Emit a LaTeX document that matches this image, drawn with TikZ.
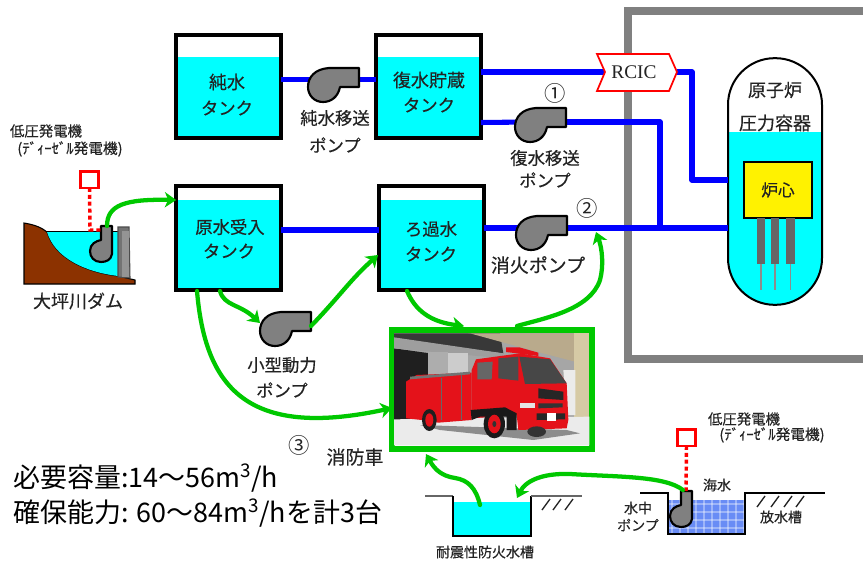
\documentclass[tikz,border=0pt]{standalone}
\usepackage{fontspec}
\setmainfont[RawFeature={embolden=0.35}]{Noto Sans CJK JP}
\newfontfamily\plainjp{Noto Sans CJK JP}
\newfontfamily\rcicfont{Liberation Serif}
\usetikzlibrary{arrows.meta,calc}
\definecolor{wtr}{RGB}{0,255,255}
\definecolor{gbrd}{RGB}{0,200,0}
\definecolor{pipeblue}{RGB}{0,0,255}
\definecolor{txt}{RGB}{35,35,35}
\definecolor{trk}{RGB}{228,18,26}
\definecolor{damb}{RGB}{140,50,0}
\definecolor{sand}{RGB}{214,202,165}
\definecolor{facade}{RGB}{185,170,140}
\definecolor{seab}{RGB}{105,140,245}
\tikzset{
  pipe/.style={draw=pipeblue,line width=3.8pt,line join=round},
  feed/.style={draw=gbrd,line width=3.2pt,line cap=round,-{Stealth[length=8.5pt,width=11.5pt,inset=2.5pt]}},
  tankbox/.style={draw=black,line width=2.6pt,minimum width=78.5pt,minimum height=77pt,inner sep=0pt,outer sep=0pt},
  lab/.style={inner sep=0pt,text=txt,align=center},
  t18/.style={lab,font=\fontsize{13.5pt}{15pt}\selectfont},
  t17/.style={lab,font=\fontsize{13pt}{15pt}\selectfont},
  t19/.style={lab,font=\fontsize{14.2pt}{16pt}\selectfont},
  t14/.style={lab,font=\fontsize{10.5pt}{12pt}\selectfont},
  t11/.style={lab,font=\fontsize{11pt}{13pt}\selectfont},
  circnum/.style={lab,font=\plainjp\fontsize{16pt}{18pt}\selectfont},
  big/.style={inner sep=0pt,anchor=west,text=black,font=\plainjp\fontsize{20.2pt}{22pt}\selectfont},
  redbox/.style={draw=red,line width=2pt,fill=white,minimum width=13.5pt,minimum height=12.5pt,inner sep=0pt,outer sep=0pt},
  reddash/.style={draw=red,line width=2.6pt,dash pattern=on 3pt off 2.2pt},
  hatch/.style={draw=txt,line width=1pt},
  ground/.style={draw=black,line width=2pt,line join=miter},
  pump/.pic={
    \path[fill=black!50,draw=black,line width=1.6pt,line join=round]
      (17,0) .. controls (15,10) and (8,15) .. (0,15)
      .. controls (-9,15) and (-15,8) .. (-15,0)
      .. controls (-15,-10) and (-8,-18) .. (6,-19)
      -- (36,-19) -- (36,0) -- cycle;
  },
  subpump/.pic={
    \path[fill=black!50,draw=black,line width=1.6pt,line join=round]
      (1,-24) -- (12,-24) -- (12,4)
      .. controls (11,10) and (6,12) .. (1,12)
      .. controls (-6,12) and (-10,7) .. (-10,1)
      .. controls (-10,-6) and (-4,-9) .. (1,-10) -- cycle;
  }
}
\begin{document}
\begin{tikzpicture}[x=0.75pt,y=-0.75pt]
\useasboundingbox (0,0) rectangle (863,560);
\fill[white] (0,0) rectangle (863,560);
% containment wall
\draw[draw=black!50,line width=6pt,line join=miter] (863,11) -- (628,11) -- (628,359) -- (863,359);
% water in tanks
\fill[wtr] (176,57) rectangle (281,138);
\fill[wtr] (376,57) rectangle (481,138);
\fill[wtr] (176,200) rectangle (281,290);
\fill[wtr] (379,200) rectangle (484,290);
% tanks
\node[tankbox] (tA) at (228.5,86.5) {};
\node[tankbox] (tB) at (428.5,86.5) {};
\node[tankbox,minimum height=78pt] (tC) at (228.5,238) {};
\node[tankbox,minimum height=78pt] (tD) at (431.5,238) {};
% vessel
\begin{scope}
\clip[rounded corners=35pt] (728,58) rectangle (822,305);
\fill[wtr] (728,132) rectangle (822,305);
\end{scope}
\node[draw=black,line width=1.5pt,rounded corners=35pt,minimum width=70.5pt,minimum height=185pt,inner sep=0pt,outer sep=0pt] (rpv) at (775,181.5) {};
% pump positions
\coordinate (pA) at (323,87);
\coordinate (pB) at (530,127);
\coordinate (pC) at (531,235);
\coordinate (pS) at (275,331);
\coordinate (rcicL) at (605,72);
\coordinate (rcicR) at (677,72);
\coordinate (jA) at (692,180);
\coordinate (jB) at (660,122);
% pipes
\draw[pipe] ($(tA.east)+(0,-7)$) -- (pA |- 0,79.5);
\draw[pipe] (359,79.5) -- ($(tB.west)+(0,-7)$);
\draw[pipe] ($(tB.east)+(0,-14.5)$) -- (rcicL);
\draw[pipe] (rcicR) -- (rcicR -| jA) -- (jA) -- (jA -| rpv.west);
\draw[pipe] ($(tB.east)+(0,36)$) -- (pB |- jB);
\draw[pipe] (pB |- jB) -- (jB) -- (jB |- 0,228);
\draw[pipe] ($(tC.east)+(0,-8)$) -- ($(tD.west)+(0,-8)$);
\draw[pipe] ($(tD.east)+(0,-10)$) -- (0,228 -| rpv.west);
% pumps
\pic at (pA) {pump};
\pic at (pB) {pump};
\pic at (pC) {pump};
\pic at (pS) {pump};
% RCIC
\path[draw=red,fill=white,line width=1.3pt,line join=miter] (597,54) -- (669,54) -- (rcicR) -- (669,91) -- (597,91) -- (rcicL) -- cycle;
\node[inner sep=0pt,text=txt,font=\rcicfont\fontsize{14.5pt}{16pt}\selectfont] (rcic) at (634,72) {RCIC};
% core
\node[draw=black,fill=yellow,line width=1.1pt,minimum width=51pt,minimum height=42pt,inner sep=0pt,text=txt,font=\fontsize{12.5pt}{14pt}\selectfont] (core) at (778,190) {炉心};
\foreach \a/\b in {757/765,771/779,786/795}{
  \fill[black!60] (\a,218) rectangle (\b,264);
  \draw[black!45,line width=0.9pt] ({(\a+\b)/2},264) -- ({(\a+\b)/2},290);
}
% labels upper
\node[t18] (l1) at (775,90) {原子炉};
\node[t18] (l2) at (775,123) {圧力容器};
\node[t18] (l3) at (227,82) {純水};
\node[t17] (l4) at (227,108) {タンク};
\node[t18] (l5) at (429,80) {復水貯蔵};
\node[t17] (l6) at (429,105) {タンク};
\node[t17] (l7) at (335,118) {純水移送};
\node[t17] (l8) at (335,145) {ポンプ};
\node[t17] (l9) at (545,158) {復水移送};
\node[t17] (l10) at (545,180) {ポンプ};
\node[circnum] (n1) at (555,93) {①};
\node[circnum] (n2) at (587,208) {②};
\node[circnum] (n3) at (299,445) {③};
\node[t17] (l11) at (230,227) {原水受入};
\node[t17] (l12) at (229,251) {タンク};
\node[t17] (l13) at (431,229) {ろ過水};
\node[t17] (l14) at (431,254) {タンク};
\node[t19] (l15) at (538,265) {消火ポンプ};
\node[t17] (l16) at (282,365) {小型動力};
\node[t17] (l17) at (282,390) {ポンプ};
\node[t19] (l18) at (355,457) {消防車};
% dam
\path[fill=damb,draw=black,line width=0.8pt] (24,223) .. controls (36,225) and (42,228) .. (47,232)
  .. controls (55,258) and (85,272) .. (118,276) -- (135,280) -- (135,284) -- (24,284) -- cycle;
\path[fill=wtr] (47,232) -- (118,232) -- (118,276) .. controls (85,272) and (55,258) .. (47,232) -- cycle;
\draw[black,line width=0.8pt] (47,231.5) -- (118,231.5);
\path[fill=black!55,draw=black!70,line width=0.8pt] (118,227) -- (129,227) -- (130,278) -- (118,277) -- cycle;
\path[fill=black!42] (122,231) -- (129,231) -- (129,277) -- (122,277) -- cycle;
\coordinate (pD) at (100,250);
\pic at (pD) {subpump};
\node[t18] (l19) at (78,301) {大坪川ダム};
\node[t14,font=\fontsize{10.8pt}{12pt}\selectfont] (l20) at (46,131) {低圧発電機};
\node[t11] (l21) at (70,149) {(ﾃﾞｨｰｾﾞﾙ発電機)};
\node[redbox] (rD) at (89.5,179.5) {};
\coordinate (rDc) at (90,230);
\draw[reddash] (rD.south) -- (rDc) -- (103,230);
% fire truck photo
\node[draw=gbrd,line width=4.6pt,minimum width=150pt,minimum height=89.5pt,inner sep=0pt,outer sep=0pt] (truck) at (492,389.5) {};
\begin{scope}[shift={(390,320)},x=0.25pt,y=-0.25pt]
\clip (12,40) rectangle (598,376);
\fill[black!35] (12,40) rectangle (598,300);
\fill[black!78] (12,40) -- (330,40) -- (340,100) -- (12,60) -- cycle;
\fill[black!88] (12,85) -- (120,100) -- (120,300) -- (12,300) -- cycle;
\fill[black!38] (12,52) -- (340,100) -- (340,115) -- (12,85) -- cycle;
\fill[black!32] (115,95) rectangle (175,165);
\fill[black!20] (175,98) rectangle (235,165);
\fill[facade] (235,40) -- (555,40) -- (555,125) -- (440,95) -- (240,40) -- cycle;
\fill[sand] (552,40) rectangle (598,292);
\fill[black!8] (520,150) -- (556,150) -- (556,285) -- (530,285) -- cycle;
\fill[black!8] (12,298) -- (598,290) -- (598,376) -- (12,376) -- cycle;
\fill[black!45] (90,315) -- (530,330) -- (570,340) -- (430,360) -- (150,330) -- cycle;
% body
\fill[trk] (48,185) -- (80,165) -- (245,158) -- (245,300) -- (145,308) -- (95,300) -- (48,295) -- cycle;
\fill[trk] (245,150) -- (258,118) -- (390,100) -- (480,115) -- (530,190) -- (535,300) -- (530,325) -- (385,330) -- (380,285) -- (245,295) -- cycle;
\fill[black!55] (60,170) -- (240,155) -- (240,163) -- (60,178) -- cycle;
\fill[trk] (348,82) -- (388,82) -- (445,98) -- (445,108) -- (348,96) -- cycle;
\fill[black!60] (262,128) -- (308,125) -- (305,178) -- (262,178) -- cycle;
\fill[black!70] (325,115) -- (385,110) -- (385,182) -- (325,175) -- cycle;
\fill[black!72] (388,110) -- (480,118) -- (530,190) -- (405,192) -- cycle;
\fill[black!85] (445,205) -- (520,215) -- (520,240) -- (445,235) -- cycle;
\fill[black!80] (445,250) -- (518,250) -- (518,262) -- (445,265) -- cycle;
\fill[black!85] (440,280) -- (525,280) -- (525,298) -- (440,300) -- cycle;
\fill[black!90] (242,270) -- (345,262) -- (380,280) -- (380,330) -- (350,330) -- (350,290) -- (270,290) -- (245,300) -- cycle;
\fill[white] (472,280) rectangle (497,302);
\fill[black!10] (390,250) rectangle (435,264);
\draw[black!60,line width=0.5pt] (155,175) -- (155,300);
\draw[black!60,line width=0.5pt] (215,165) -- (215,300);
\fill[black!80] (440,335) ellipse [x radius=28,y radius=16];
\fill[black!88] (118,300) ellipse [x radius=22,y radius=33];
\fill[trk] (118,300) ellipse [x radius=12,y radius=20];
\fill[black!90] (313,312) ellipse [x radius=32,y radius=43];
\fill[trk] (313,312) ellipse [x radius=19,y radius=28];
\fill[black!80] (313,312) ellipse [x radius=6,y radius=9];
\end{scope}
% bottom-left text
\node[big] (b1) at (13,478) {必要容量:14～56m\textsuperscript{3}/h};
\node[big] (b2) at (13,513) {確保能力: 60～84m\textsuperscript{3}/hを計3台};
% fire cistern
\fill[wtr] (454,502) rectangle (530,535);
\draw[ground,draw=black!60] (425,496) -- (453,496);
\draw[ground] (453,496) -- (453,536) -- (531,536) -- (531,496);
\draw[ground,draw=black!60] (531,496) -- (582,496);
\foreach \x in {542,553,565}{\draw[hatch] (\x,510) -- (\x+8,499);}
\node[t14] (l22) at (485,552) {耐震性防火水槽};
% sea pit
\fill[seab] (669,500) rectangle (744,533);
\foreach \x in {672,680,...,744}{\draw[white,opacity=.35,line width=1pt] (\x,500) -- (\x,533);}
\foreach \y in {504,512,...,533}{\draw[white,opacity=.35,line width=1pt] (669,\y) -- (744,\y);}
\draw[ground] (640,493) -- (668,493) -- (668,534) -- (745,534) -- (745,493) -- (825,493);
\foreach \x in {757,771,784,796}{\draw[hatch] (\x,507) -- (\x+8,496);}
\coordinate (pE) at (680,515);
\pic at (pE) {subpump};
\node[redbox] (rE) at (686.5,437.5) {};
\coordinate (rEb) at (686,491);
\draw[reddash] (rE.south) -- (rEb);
\node[t14,font=\fontsize{10.8pt}{12pt}\selectfont] (l23) at (744,419) {低圧発電機};
\node[t11] (l24) at (772,435) {(ﾃﾞｨｰｾﾞﾙ発電機)};
\node[t14] (l25) at (717,485) {海水};
\node[t14] (l26) at (638,508) {水中};
\node[t14] (l27) at (638,525) {ポンプ};
\node[t14] (l28) at (781,517) {放水槽};
% green feed lines
\coordinate (gD) at (107,226);
\draw[feed] (gD) .. controls (107,205) and (125,199) .. (tC.west |- 0,200);
\coordinate (gC1) at (220,291);
\draw[feed] (gC1) .. controls (224,306) and (240,304) .. (260,323);
\coordinate (gC2) at (197,291);
\draw[feed] (gC2) .. controls (205,385) and (245,440) .. (truck.west |- 0,408);
\coordinate (gS) at (311,326);
\coordinate (gS2) at (378,255);
\draw[feed] (gS) .. controls (340,296) and (350,280) .. (gS2);
\coordinate (gT1) at (407,291);
\coordinate (gT2) at (464,326);
\draw[feed] (gT1) .. controls (415,310) and (430,322) .. (gT2);
\coordinate (gT3) at (517,326);
\coordinate (gT4) at (596,232);
\draw[feed] (gT3) .. controls (545,318) and (590,310) .. (600,280) .. controls (604,265) and (602,248) .. (gT4);
\coordinate (gP1) at (480,505);
\coordinate (gP2) at (426,454);
\draw[feed] (gP1) .. controls (476,488) and (468,480) .. (455,478) .. controls (442,476) and (435,470) .. (gP2);
\coordinate (gE) at (683,490);
\coordinate (gE2) at (517,498);
\draw[feed] (gE) .. controls (665,476) and (620,477) .. (570,474) .. controls (540,473) and (525,482) .. (gE2);
\end{tikzpicture}
\end{document}
